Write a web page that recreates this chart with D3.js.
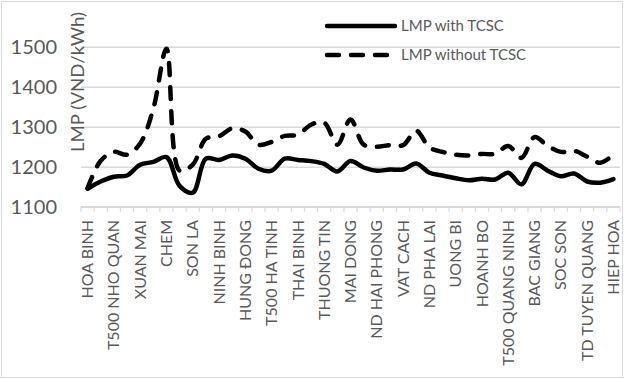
<!DOCTYPE html>
<html><head><meta charset="utf-8">
<script src="https://cdn.jsdelivr.net/npm/d3@7"></script>
<style>body{margin:0;background:#fff;} svg{display:block;}</style>
</head><body>
<svg id="chart" width="624" height="379"></svg>
<script>
const categories = ["HOA BINH","","T500 NHO QUAN","","XUAN MAI","","CHEM","","SON LA","","NINH BINH","","HUNG ĐONG","","T500 HA TINH","","THAI BINH","","THUONG TIN","","MAI DONG","","ND HAI PHONG","","VAT CACH","","ND PHA LAI","","UONG BI","","HOANH BO","","T500 QUANG NINH","","BAC GIANG","","SOC SON","","TD TUYEN QUANG","","HIEP HOA"];
const withTCSC = [1145,1163,1175,1178,1205,1212,1224,1152,1135,1220,1217,1228,1220,1195,1190,1220,1217,1214,1207,1188,1214,1198,1190,1193,1193,1208,1185,1178,1171,1166,1170,1168,1185,1156,1207,1190,1176,1183,1163,1160,1169];
const withoutTCSC = [1146,1215,1237,1230,1258,1345,1495,1190,1205,1270,1276,1296,1288,1255,1262,1277,1280,1305,1310,1255,1318,1255,1250,1254,1254,1290,1248,1237,1230,1228,1232,1232,1252,1222,1274,1252,1237,1240,1225,1210,1230];
const yTicks = [1100,1200,1300,1400,1500];
const seriesNames = ["LMP with TCSC","LMP without TCSC"];
const yTitle = "LMP (VND/kWh)";

(function(){
const svg = d3.select("#chart");
const W = 624, H = 379;
const mLeft = 81, mRight = 620, mTop = 46.7, mBottom = 206.7;
const font = "Lato, sans-serif";
const grey = "#595959", light = "#d9d9d9";

svg.append("rect").attr("x",1.5).attr("y",1.5).attr("width",W-3).attr("height",H-3)
  .attr("fill","#fff").attr("stroke",light).attr("stroke-width",1);

const x = d3.scaleBand().domain(d3.range(categories.length)).range([mLeft,mRight]).padding(0);
const y = d3.scaleLinear().domain([1100,1500]).range([mBottom,mTop]);

const ya = svg.append("g").attr("transform",`translate(${mLeft},0)`)
  .call(d3.axisLeft(y).tickValues(yTicks).tickSize(-(mRight-mLeft)).tickPadding(24).tickFormat(d3.format("d")));
ya.select(".domain").remove();
ya.selectAll(".tick line").attr("stroke",light).attr("stroke-width",1.5);
ya.selectAll(".tick text").attr("fill",grey).style("font-family",font).style("font-size","20px");

svg.append("line").attr("x1",mLeft).attr("x2",mRight).attr("y1",mBottom).attr("y2",mBottom)
  .attr("stroke",light).attr("stroke-width",1.5);
svg.append("g").selectAll("line").data(d3.range(categories.length+1)).join("line")
  .attr("x1",i=>mLeft+i*x.step()).attr("x2",i=>mLeft+i*x.step())
  .attr("y1",mBottom).attr("y2",mBottom+5).attr("stroke",light).attr("stroke-width",1.2);

svg.append("g").selectAll("text").data(categories.map((c,i)=>({c,i})).filter(d=>d.c))
  .join("text")
  .attr("transform",d=>`translate(${x(d.i)+x.bandwidth()/2},220) rotate(-90)`)
  .attr("text-anchor","end").attr("dy","0.35em")
  .attr("fill",grey).style("font-family",font).style("font-size","16px")
  .text(d=>d.c);

svg.append("text").attr("transform",`translate(78,82) rotate(-90)`)
  .attr("text-anchor","middle").attr("dy","0.35em")
  .attr("textLength",140).attr("lengthAdjust","spacingAndGlyphs")
  .attr("fill",grey).style("font-family",font).style("font-size","18px").text(yTitle);

const curve = d3.curveCatmullRom.alpha(0.5);
const line = d3.line().x((d,i)=>x(i)+x.bandwidth()/2).y(d=>y(d)).curve(curve);

svg.append("path").datum(withoutTCSC).attr("d",line).attr("fill","none")
  .attr("stroke","#000").attr("stroke-width",4.5).attr("stroke-linecap","round")
  .attr("stroke-linejoin","round").attr("stroke-dasharray","12,12");
svg.append("path").datum(withTCSC).attr("d",line).attr("fill","none")
  .attr("stroke","#000").attr("stroke-width",4.5).attr("stroke-linecap","round")
  .attr("stroke-linejoin","round");

const lg = svg.append("g");
[[26,null],[55,"12,12"]].forEach(([ly,dash],k)=>{
  lg.append("line").attr("x1",327).attr("x2",395).attr("y1",ly).attr("y2",ly)
    .attr("stroke","#000").attr("stroke-width",4.5).attr("stroke-linecap","round")
    .attr("stroke-dasharray",dash);
  lg.append("text").attr("x",401).attr("y",ly).attr("dy","0.35em")
    .attr("fill",grey).style("font-family",font).style("font-size","15px").text(seriesNames[k]);
});
})();
</script>
</body></html>
